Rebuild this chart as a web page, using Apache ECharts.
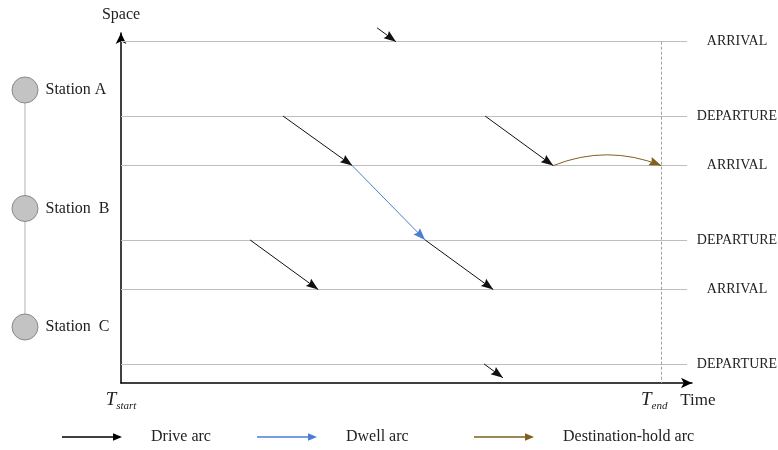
<!DOCTYPE html>
<html>
<head>
<meta charset="utf-8">
<script src="https://cdn.jsdelivr.net/npm/echarts@6/dist/echarts.min.js"></script>
<style>html,body{margin:0;padding:0;background:#fff}#c{width:778px;height:450px}</style>
</head>
<body>
<div id="c"></div>
<script>
// ---- data ----
const levelValues = [0, 3, 5, 8, 10, 13];
const levelNames = ['DEPARTURE', 'ARRIVAL', 'DEPARTURE', 'ARRIVAL', 'DEPARTURE', 'ARRIVAL'];
const stationNames = ['Station A', 'Station  B', 'Station  C'];
const stationOrder = [0, 1, 2];
const tStart = 0;
const tEnd = 100;
const horizonEnd = 104.8;
// [t0, s0, t1, s1]
const driveArcs = [
  [47.4, 13.56, 50.9, 13],
  [30.0, 10, 42.8, 8],
  [67.4, 10, 80.0, 8],
  [23.9, 5, 36.5, 3],
  [56.3, 5, 68.9, 3],
  [67.2, 0, 70.7, -0.56]
];
const dwellArcs = [[42.8, 8, 56.3, 5]];
const holdArcs = [[80.0, 8, 100.0, 8]];
const timeTickValues = [tStart, tEnd];
const timeTickNames = ['start', 'end'];

// ---- chart ----
const FONT = '"Liberation Serif", "Times New Roman", serif';
const Y_MIN = -0.77, Y_MAX = 13.35, X_MAX = 105.7;
const toCoords = a => a.map(r => ({ coords: [[r[0], r[1]], [r[2], r[3]]] }));
const arrowIcon = 'path://M0,4.2 L52,4.2 L52,5.8 L0,5.8 Z M51,1.2 L60,5 L51,8.8 Z';
// arrow head whose tip sits at the centre of its box
const headPath = 'path://M5,0 L5.01,0 L5,0.01 Z M5,11 L10,22 L5,20.5 L0,22 Z';

const chart = echarts.init(document.getElementById('c'), null, { renderer: 'canvas' });

function arcSeries(name, arr, color, curveness) {
  return {
    name: name, type: 'lines', coordinateSystem: 'cartesian2d',
    xAxisIndex: 0, yAxisIndex: 0, clip: false, z: 5,
    symbol: ['none', headPath], symbolSize: [[9, 24], [9, 24]],
    lineStyle: { color: color, width: 1, opacity: 1, curveness: curveness || 0 },
    itemStyle: { color: color },
    data: toCoords(arr), silent: true, animation: false
  };
}

const legendBase = {
  selectedMode: false, itemWidth: 60, itemHeight: 10, top: 429, padding: 0,
  textStyle: { fontFamily: FONT, fontSize: 16, color: '#222', padding: [0, 0, 0, 24] }
};

chart.setOption({
  animation: false,
  backgroundColor: '#fff',
  grid: [
    { left: 121, right: 86, top: 33, bottom: 67, outerBoundsMode: 'none', containLabel: false },
    { left: 0, width: 50, top: 90, height: 237, outerBoundsMode: 'none', containLabel: false }
  ],
  xAxis: [
    {
      gridIndex: 0, type: 'value', min: 0, max: X_MAX,
      axisLine: { show: true, onZero: false, lineStyle: { color: '#000', width: 1.5 }, symbol: ['none', 'arrow'], symbolSize: [8, 11] },
      axisTick: { show: false }, splitLine: { show: false },
      axisLabel: {
        customValues: timeTickValues, margin: 4,
        formatter: v => {
          const i = timeTickValues.indexOf(v);
          return i === 1 ? '{t|T}{s|' + timeTickNames[i] + '}{sp|}' : '{t|T}{s|' + timeTickNames[i] + '}';
        },
        rich: {
          t: { fontFamily: FONT, fontStyle: 'italic', fontSize: 19, color: '#222', lineHeight: 22, verticalAlign: 'bottom' },
          s: { fontFamily: FONT, fontStyle: 'italic', fontSize: 11, color: '#222', lineHeight: 22, verticalAlign: 'bottom', padding: [0, 0, -3, 0] },
          sp: { width: 14 }
        }
      },
      name: 'Time', nameLocation: 'end', nameGap: -20,
      nameTextStyle: { fontFamily: FONT, fontSize: 17, color: '#222', verticalAlign: 'top', padding: [9, 0, 0, 0] }
    },
    { gridIndex: 1, type: 'value', min: 0, max: 2, show: false }
  ],
  yAxis: [
    {
      gridIndex: 0, type: 'value', min: Y_MIN, max: Y_MAX,
      axisLine: { show: true, onZero: false, lineStyle: { color: '#000', width: 1.5 }, symbol: ['none', 'arrow'], symbolSize: [8, 11] },
      axisTick: { show: false }, splitLine: { show: false }, axisLabel: { show: false },
      name: 'Space', nameLocation: 'end', nameGap: 10,
      nameTextStyle: { fontFamily: FONT, fontSize: 16, color: '#222' }
    },
    { gridIndex: 1, type: 'value', min: 0, max: 2, inverse: true, show: false },
    {
      gridIndex: 0, type: 'value', min: Y_MIN, max: Y_MAX, position: 'right',
      axisLine: { show: false }, axisTick: { show: false }, splitLine: { show: false },
      axisLabel: {
        customValues: levelValues, align: 'center', margin: 45,
        fontFamily: FONT, fontSize: 14, color: '#222',
        formatter: v => levelNames[levelValues.indexOf(v)]
      }
    }
  ],
  legend: [
    Object.assign({}, legendBase, { left: 62, data: [{ name: 'Drive arc', icon: arrowIcon, itemStyle: { color: '#000', borderWidth: 0 } }] }),
    Object.assign({}, legendBase, { left: 257, data: [{ name: 'Dwell arc', icon: arrowIcon, itemStyle: { color: '#4a7ed2', borderWidth: 0 } }] }),
    Object.assign({}, legendBase, { left: 474, data: [{ name: 'Destination-hold arc', icon: arrowIcon, itemStyle: { color: '#7f6020', borderWidth: 0 } }] })
  ],
  series: [
    {
      name: 'levels', type: 'lines', coordinateSystem: 'cartesian2d', xAxisIndex: 0, yAxisIndex: 0,
      z: 1, symbol: 'none', silent: true,
      lineStyle: { color: '#bdbdbd', width: 1, opacity: 1 },
      data: levelValues.map(v => ({ coords: [[tStart, v], [horizonEnd, v]] }))
    },
    {
      name: 'horizon', type: 'lines', coordinateSystem: 'cartesian2d', xAxisIndex: 0, yAxisIndex: 0,
      z: 1, symbol: 'none', silent: true,
      lineStyle: { color: '#a0a0a0', width: 1, opacity: 1, type: [3, 2] },
      data: [{ coords: [[tEnd, levelValues[levelValues.length - 1]], [tEnd, Y_MIN]] }]
    },
    arcSeries('Drive arc', driveArcs, '#111', 0),
    arcSeries('Dwell arc', dwellArcs, '#4a7ed2', 0),
    arcSeries('Destination-hold arc', holdArcs, '#7f6020', 0.2),
    {
      name: 'stationLine', type: 'line', xAxisIndex: 1, yAxisIndex: 1, z: 1,
      symbol: 'none', silent: true,
      lineStyle: { color: '#b0b0b0', width: 1 },
      data: stationOrder.map(i => [1, i])
    },
    {
      name: 'stations', type: 'scatter', xAxisIndex: 1, yAxisIndex: 1, z: 3, clip: false,
      symbol: 'circle', symbolSize: 26, silent: true,
      itemStyle: { color: '#c3c3c3', borderColor: '#8a8a8a', borderWidth: 1, opacity: 1 },
      label: {
        show: true, position: 'right', distance: 7,
        fontFamily: FONT, fontSize: 16, color: '#222',
        formatter: p => stationNames[p.dataIndex]
      },
      data: stationOrder.map(i => [1, i])
    }
  ]
});
</script>
</body>
</html>
